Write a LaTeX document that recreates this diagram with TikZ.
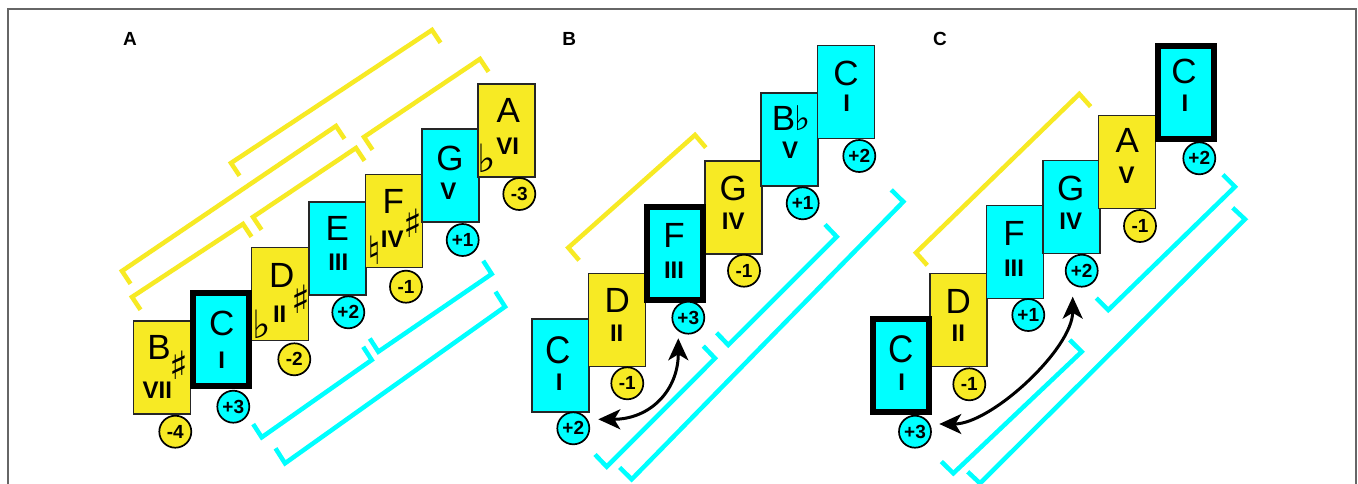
\documentclass[tikz,border=0pt]{standalone}
\usepackage{fontspec}
\setmainfont{Liberation Sans}
\newfontfamily\music{DejaVu Sans}
\usetikzlibrary{arrows.meta}
\definecolor{yel}{RGB}{247,234,36}
\definecolor{cyn}{RGB}{0,255,255}
\begin{document}
\begin{tikzpicture}[x=1pt,y=-1pt,
  deg/.style={draw=black!85, line width=1.5pt, minimum width=57pt, minimum height=93pt, inner sep=0pt},
  ydeg/.style={deg, fill=yel},
  cdeg/.style={deg, fill=cyn},
  tonic/.style={line width=6pt, draw=black, minimum width=56pt, minimum height=93pt},
  num/.style={circle, draw=black, line width=1.7pt, minimum size=32pt, inner sep=0pt, font=\bfseries\fontsize{19}{19}\selectfont},
  ynum/.style={num, fill=yel},
  cnum/.style={num, fill=cyn},
  lett/.style={inner sep=0pt, font=\fontsize{35}{35}\selectfont},
  rom/.style={inner sep=0pt, font=\bfseries\fontsize{24}{24}\selectfont},
  acc/.style={inner sep=0pt, font=\music\fontsize{39}{39}\selectfont},
  ybr/.style={draw=yel, line width=4.5pt},
  cbr/.style={draw=cyn, line width=4.5pt},
  arr/.style={line width=3pt, {Stealth[length=22pt,width=20pt,inset=6pt]}-{Stealth[length=22pt,width=20pt,inset=6pt]}},
  panel/.style={font=\bfseries\fontsize{19}{19}\selectfont, inner sep=0pt}
]
\useasboundingbox (0,0) rectangle (1358,484);
\fill[white] (0,0) rectangle (1358,484);
% frame
\draw[black!60, line width=1.8pt] (7.7,484) -- (7.7,9.3) -- (1355.8,9.3) -- (1355.8,484);

% panel labels
\node[panel] (LA) at (130,39) {A};
\node[panel] (LB) at (569.3,39) {B};
\node[panel] (LC) at (940,39) {C};

% ---------- brackets panel A ----------
\draw[ybr] (231,163) ++(8.5,12.8) -- (231,163) -- (432,30) -- ++(8.5,12.8);
\draw[ybr] (122,271) ++(8.5,12.8) -- (122,271) -- (336,126) -- ++(8.5,12.8);
\draw[ybr] (132,297) ++(8.5,12.8) -- (132,297) -- (243,224) -- ++(8.5,12.8);
\draw[ybr] (253,217) ++(8.5,12.8) -- (253,217) -- (356,148) -- ++(8.5,12.8);
\draw[ybr] (364,137) ++(8.5,12.8) -- (364,137) -- (480,59) -- ++(8.5,12.8);
\draw[cbr] (261.7,437.3) ++(-8.5,-13.2) -- (261.7,437.3) -- (371.7,360) -- ++(-8.5,-13.2);
\draw[cbr] (378.3,351.7) ++(-8.5,-13.2) -- (378.3,351.7) -- (491.7,274) -- ++(-8.5,-13.2);
\draw[cbr] (285,463.3) ++(-9.5,-15) -- (285,463.3) -- (505,306.7) -- ++(-9.5,-15);

% ---------- brackets panel B ----------
\draw[ybr] (568.3,247.7) ++(10.8,12.6) -- (568.3,247.7) -- (695,135) -- ++(10.8,12.6);
\draw[cbr] (606.7,466.7) ++(-11.7,-12.2) -- (606.7,466.7) -- (715,358.3) -- ++(-11.7,-12.2);
\draw[cbr] (728.3,345) ++(-11.7,-12.2) -- (728.3,345) -- (836.7,236.7) -- ++(-11.7,-12.2);
\draw[cbr] (631.7,479.3) ++(-12,-11.8) -- (631.7,479.3) -- (903.3,201.7) -- ++(-12,-11.8);

% ---------- brackets panel C ----------
\draw[ybr] (916,252.7) ++(11.3,12.6) -- (916,252.7) -- (1079.3,94) -- ++(11.3,12.6);
\draw[cbr] (953.3,473.3) ++(-12,-11.8) -- (953.3,473.3) -- (1081.7,351.7) -- ++(-12,-11.8);
\draw[cbr] (1108.3,310) ++(-12,-12) -- (1108.3,310) -- (1235,186.7) -- ++(-12,-12);
\draw[cbr] (980,483.3) ++(-12.3,-11.5) -- (980,483.3) -- (1245,219.3) -- ++(-12.3,-11.5);

% ---------- boxes panel A ----------
\node[ydeg] (A7) at (161.8,367.5) {};
\node[ydeg] (A2) at (280,294) {};
\node[cdeg] (A3) at (337.5,248.5) {};
\node[ydeg] (A4) at (394.2,221) {};
\node[cdeg] (A5) at (450.3,175.5) {};
\node[ydeg] (A6) at (506.5,130.5) {};
\node[cdeg,tonic] (A1) at (221,339) {};

% ---------- boxes panel B ----------
\node[cdeg] (B1) at (560.3,365.3) {};
\node[ydeg] (B2) at (617,320) {};
\node[ydeg] (B4) at (733.5,207.5) {};
\node[cdeg] (B5) at (789.7,139.5) {};
\node[cdeg] (B8) at (846,92.2) {};
\node[cdeg,tonic] (B3) at (675,253) {};

% ---------- boxes panel C ----------
\node[ydeg] (C2) at (958.7,320) {};
\node[cdeg] (C3) at (1015,252.2) {};
\node[cdeg] (C4) at (1071.3,207.2) {};
\node[ydeg] (C5) at (1127.2,161.8) {};
\node[cdeg,tonic] (C1) at (900.5,365) {};
\node[cdeg,tonic] (C8) at (1185.9,92.5) {};

% ---------- circles ----------
\node[ynum] (nA7) at (175.3,431.7) {-4};
\node[cnum] (nA1) at (233.3,406.7) {+3};
\node[ynum] (nA2) at (294.3,359.3) {-2};
\node[cnum] (nA3) at (348.3,312.3) {+2};
\node[ynum] (nA4) at (406,286.7) {-1};
\node[cnum] (nA5) at (462.7,240) {+1};
\node[ynum] (nA6) at (519.3,194) {-3};

\node[cnum] (nB1) at (573.3,428.3) {+2};
\node[ynum] (nB2) at (627.3,383.3) {-1};
\node[cnum] (nB3) at (688.3,317.7) {+3};
\node[ynum] (nB4) at (744,270.7) {-1};
\node[cnum] (nB5) at (802.7,203.3) {+1};
\node[cnum] (nB8) at (859.3,156) {+2};

\node[cnum] (nC1) at (915,431.7) {+3};
\node[ynum] (nC2) at (969.3,384.3) {-1};
\node[cnum] (nC3) at (1028.3,315) {+1};
\node[cnum] (nC4) at (1081.7,270.7) {+2};
\node[ynum] (nC5) at (1140,226) {-1};
\node[cnum] (nC8) at (1199.3,158.3) {+2};

% ---------- texts panel A ----------
\node[lett] (tA7) at (159,347.5) {B};
\node[rom]  (rA7) at (157.3,390) {VII};
\node[acc]  (sA7) at (178.5,365) {♯};
\node[lett] (tA1) at (221.7,323.3) {C};
\node[rom]  (rA1) at (221.7,360.7) {I};
\node[lett] (tA2) at (281.7,275.5) {D};
\node[rom]  (rA2) at (279.7,314.5) {II};
\node[acc]  (fA2) at (262,324) {♭};
\node[acc]  (sA2) at (300.5,299) {♯};
\node[lett] (tA3) at (337.3,228.3) {E};
\node[rom]  (rA3) at (338.3,262.7) {III};
\node[lett] (tA4) at (393.3,201.7) {F};
\node[rom]  (rA4) at (392.3,239) {IV};
\node[acc]  (nnA4) at (374,250) {♮};
\node[acc]  (sA4) at (413,223) {♯};
\node[lett] (tA5) at (450,158.3) {G};
\node[rom]  (rA5) at (448.3,191.7) {V};
\node[lett] (tA6) at (508.3,110) {A};
\node[rom]  (rA6) at (507.7,146.7) {VI};
\node[acc]  (fA6) at (487,158) {♭};

% ---------- texts panel B ----------
\node[lett,yscale=1.1] (tB1) at (558.3,350.5) {C};
\node[rom]  (rB1) at (559.3,382.5) {I};
\node[lett] (tB2) at (617.3,300) {D};
\node[rom]  (rB2) at (616.7,333.3) {II};
\node[lett] (tB3) at (674,235) {F};
\node[rom]  (rB3) at (674,270) {III};
\node[lett] (tB4) at (733.3,188.3) {G};
\node[rom]  (rB4) at (733.3,221.7) {IV};
\node[lett] (tB5) at (791,118) {B\kern-1pt{\music\fontsize{34}{34}\selectfont ♭}};
\node[rom]  (rB5) at (790,150) {V};
\node[lett] (tB8) at (846,73.3) {C};
\node[rom]  (rB8) at (846.7,103.3) {I};

% ---------- texts panel C ----------
\node[lett,yscale=1.1] (tC1) at (900.7,349) {C};
\node[rom]  (rC1) at (901.7,382.5) {I};
\node[lett] (tC2) at (958.3,301.7) {D};
\node[rom]  (rC2) at (958.3,333.3) {II};
\node[lett] (tC3) at (1014,233.3) {F};
\node[rom]  (rC3) at (1014,268.3) {III};
\node[lett] (tC4) at (1070.7,188.3) {G};
\node[rom]  (rC4) at (1070.7,221.7) {IV};
\node[lett] (tC5) at (1127.3,140) {A};
\node[rom]  (rC5) at (1126.7,175) {V};
\node[lett] (tC8) at (1184,71.7) {C};
\node[rom]  (rC8) at (1185,103.3) {I};

% ---------- arrows ----------
\coordinate (aB1) at (598.3,419.3);
\coordinate (aB2) at (678.3,338.3);
\draw[arr] (aB1) .. controls (650.3,419.3) and (678.3,390.3) .. (aB2);
\coordinate (aC1) at (939.3,424);
\coordinate (aC2) at (1072.7,296.7);
\draw[arr] (aC1) .. controls (991.3,424) and (1072.7,348.7) .. (aC2);
\end{tikzpicture}
\end{document}
